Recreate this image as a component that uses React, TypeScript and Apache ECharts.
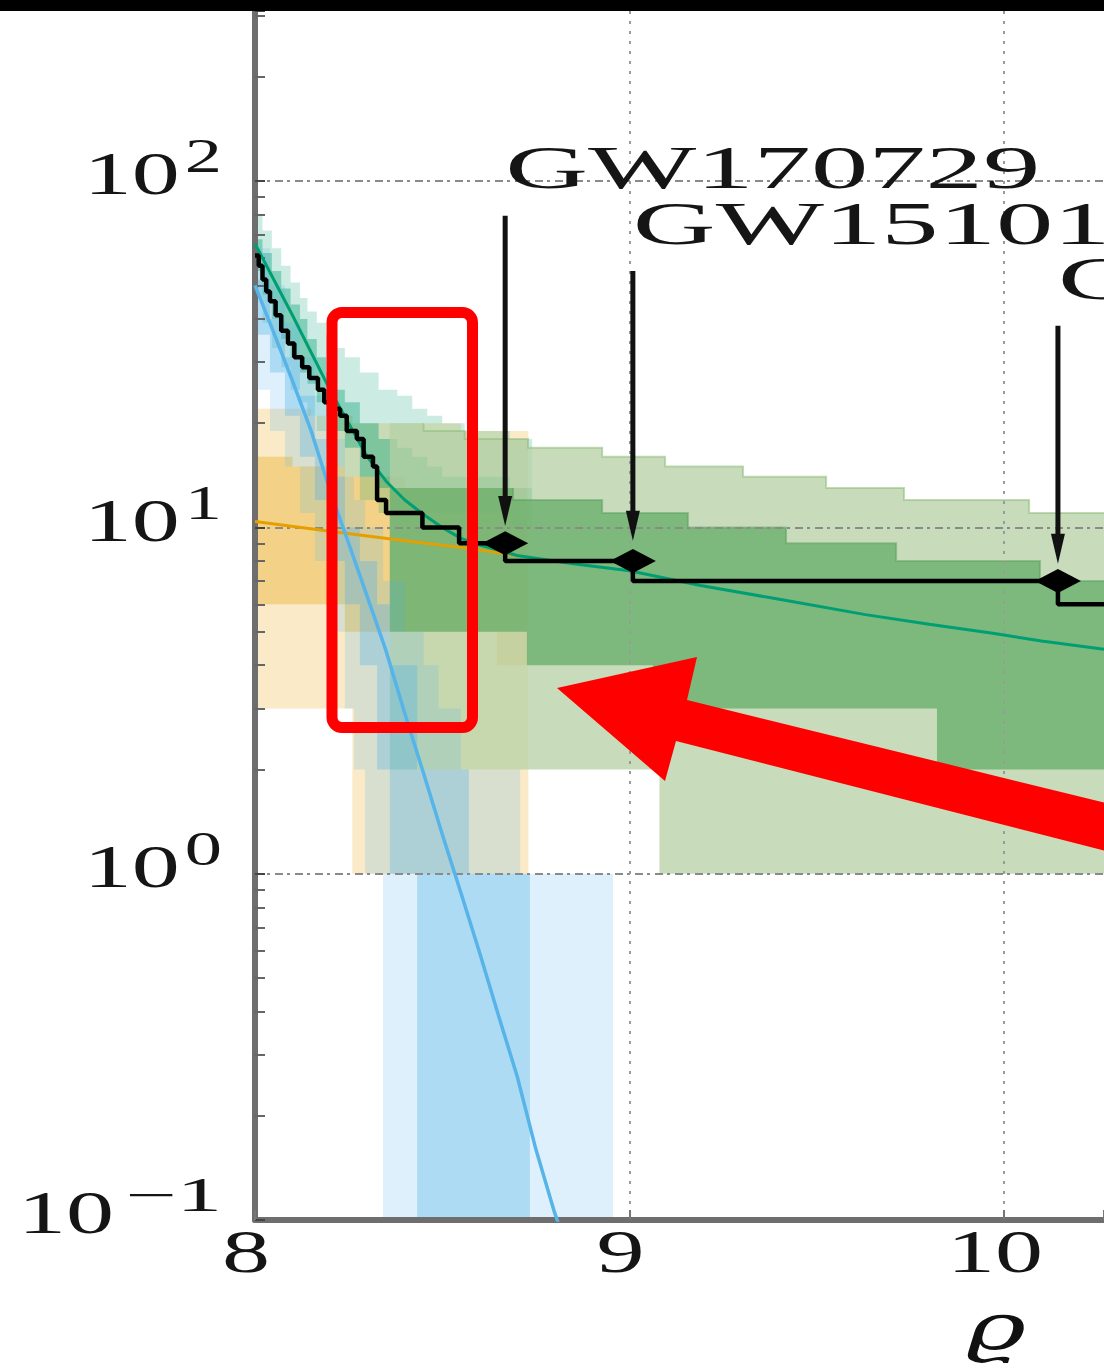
import React, { useEffect, useRef } from 'react';
import * as echarts from 'echarts';

const SERIF = '"Liberation Serif", "DejaVu Serif", serif';

// Axis extents
const X_MIN = 8;
const X_MAX = 10.267;
const Y_MIN = 0.1;
const Y_MAX = 310;

const xTickValues = [8, 9, 10];
const yTickExponents = [-1, 0, 1, 2];
const yMinorTickValues = [
  0.2, 0.3, 0.4, 0.5, 0.6, 0.7, 0.8, 0.9,
  2, 3, 4, 5, 6, 7, 8, 9,
  20, 30, 40, 50, 60, 70, 80, 90,
  200, 300,
];

// Observed cumulative count above threshold [ϱ, N]
const observedSteps = [
  [8.0, 61], [8.01, 57], [8.02, 52], [8.03, 48], [8.04, 45], [8.055, 41],
  [8.07, 37], [8.088, 34], [8.105, 31], [8.126, 29], [8.145, 27], [8.168, 25],
  [8.185, 23], [8.205, 22], [8.227, 21], [8.245, 19], [8.272, 18], [8.29, 16],
  [8.315, 15], [8.326, 12], [8.35, 11], [8.447, 10], [8.545, 9], [8.668, 8],
  [9.009, 7], [10.144, 6], [10.267, 6],
];

// Marked events
const eventNames = ['GW170729', 'GW151012', 'GW170823'];
const eventPoints = [[8.668, 9], [9.009, 8], [10.144, 7]];
const eventArrowTop = [79.5, 55, 38.2];
const eventArrowTip = [10.1, 9.15, 7.86];

// Model expectations
const blueModel = [
  [8.0, 50], [8.05, 36.5], [8.1, 26.5], [8.15, 19], [8.2, 12.8], [8.25, 9.0],
  [8.3, 6.3], [8.35, 4.4], [8.4, 2.9], [8.45, 1.95], [8.5, 1.3], [8.55, 0.88],
  [8.6, 0.59], [8.65, 0.39], [8.7, 0.26], [8.75, 0.16], [8.8, 0.105], [8.83, 0.085],
];
const orangeModel = [[8.0, 10.4], [8.2, 9.75], [8.4, 9.15], [8.57, 8.7], [8.7, 8.3]];
const tealModel = [
  [8.0, 66], [8.05, 52], [8.1, 41], [8.15, 32], [8.2, 25], [8.25, 20], [8.3, 16],
  [8.35, 13.6], [8.4, 12], [8.45, 10.9], [8.5, 10.0], [8.55, 9.3], [8.6, 8.9],
  [8.7, 8.3], [8.85, 7.85], [9.0, 7.5], [9.19, 6.8], [9.4, 6.2], [9.63, 5.6],
  [9.8, 5.25], [9.97, 4.95], [10.1, 4.7], [10.267, 4.45],
];

// Credible bands: bin edges with lower / upper counts per bin
const yellowEdges90 = [8.0, 8.15, 8.26, 8.35, 8.55, 8.73];
const yellowLo90 = [3, 3, 1, 1, 1];
const yellowHi90 = [22, 21, 20, 20, 19];
const yellowEdges50 = [8.0, 8.1, 8.24, 8.4, 8.646, 8.726];
const yellowLo50 = [6, 6, 5, 5, 4];
const yellowHi50 = [16, 15, 14, 13, 13];

const tealEdges = [8.0, 8.02, 8.045, 8.07, 8.095, 8.12, 8.14, 8.165, 8.19, 8.215, 8.24, 8.28, 8.33, 8.38, 8.42, 8.46, 8.5, 8.56, 8.62, 8.68, 8.74];
const tealHi90 = [80, 72, 64, 57, 51, 46, 42, 39, 36, 33, 31, 28, 25, 24, 22, 21, 20, 19, 19, 18];
const tealLo90 = [46, 39, 33, 29, 25, 23, 21, 19, 17, 15, 14, 12, 11, 11, 11, 11, 11, 11, 11, 10];
const tealHi50 = [68, 62, 55, 49, 44, 40, 35, 31, 28, 25, 23, 20, 18, 17, 16, 15, 14, 14, 14, 13];
const tealLo50 = [55, 47, 40, 35, 31, 28, 26, 23, 21, 19, 17, 14, 13, 13, 13, 13, 13, 13, 13, 12];

const greenEdges90 = [8.36, 8.45, 8.56, 8.729, 8.927, 9.08, 9.095, 9.303, 9.525, 9.733, 10.067, 10.3];
const greenHi90 = [20, 19, 18, 17, 16, 16, 15, 14, 13, 12, 11];
const greenLo90 = [2, 2, 2, 2, 2, 1, 1, 1, 1, 1, 1];
const greenEdges50 = [8.36, 8.689, 8.726, 8.927, 9.063, 9.156, 9.418, 9.712, 9.821, 10.096, 10.3];
const greenHi50 = [13, 12, 12, 11, 11, 10, 9, 8, 8, 7];
const greenLo50 = [5, 5, 4, 4, 3, 3, 3, 3, 2, 2];

const blueEdges90 = [8.0, 8.04, 8.08, 8.12, 8.16, 8.2, 8.24, 8.264, 8.294, 8.342, 8.4, 8.45, 8.49, 8.55, 8.708, 8.956];
const blueLo90 = [25, 19, 15, 11, 8, 5, 3, 2, 1, 0, 0, 0, 0, 0, 0];
const blueHi90 = [64, 50, 39, 31, 24, 18, 14, 12, 10, 7, 5, 4, 3, 2, 1];
const blueEdges50 = [8.0, 8.04, 8.08, 8.12, 8.16, 8.2, 8.24, 8.28, 8.326, 8.36, 8.433, 8.5, 8.571, 8.734];
const blueLo50 = [36, 28, 21, 16, 12, 8, 6, 4, 2, 1, 0, 0, 0];
const blueHi50 = [52, 40, 31, 24, 18, 14, 10, 8, 6, 4, 2, 2, 1];

const floorY = (v: number) => Math.max(v, Y_MIN);

let measureCtx: CanvasRenderingContext2D | null = null;
function textWidth(text: string, size: number): number {
  if (!measureCtx) measureCtx = document.createElement('canvas').getContext('2d');
  if (!measureCtx) return text.length * size * 0.5;
  measureCtx.font = `${size}px ${SERIF}`;
  return measureCtx.measureText(text).width;
}

function textEl(text: string, x: number, y: number, size: number, align: string, vAlign: string, scaleX: number, extra: any = {}) {
  return {
    type: 'text',
    x,
    y,
    scaleX,
    silent: true,
    style: {
      text,
      fontSize: size,
      fontFamily: SERIF,
      fill: '#151515',
      align,
      verticalAlign: vAlign,
      textAlign: align,
      textVerticalAlign: vAlign,
      ...extra,
    },
  };
}

// Step band drawn as one polygon: upper steps left→right, lower steps right→left.
// An optional outline is traced along the upper steps only.
function bandSeries(name: string, edges: number[], lo: number[], hi: number[], fill: string, edgeColor?: string) {
  return {
    name,
    type: 'custom',
    coordinateSystem: 'cartesian2d',
    z: 1,
    silent: true,
    data: [[edges[0], hi[0]]],
    renderItem: (_params: any, api: any) => {
      const upper: number[][] = [];
      for (let i = 0; i < hi.length; i++) {
        upper.push(api.coord([edges[i], floorY(hi[i])]));
        upper.push(api.coord([edges[i + 1], floorY(hi[i])]));
      }
      const lower: number[][] = [];
      for (let i = lo.length - 1; i >= 0; i--) {
        lower.push(api.coord([edges[i + 1], floorY(lo[i])]));
        lower.push(api.coord([edges[i], floorY(lo[i])]));
      }
      const children: any[] = [
        { type: 'polygon', shape: { points: upper.concat(lower) }, style: { fill, stroke: 'none' } },
      ];
      if (edgeColor) {
        children.push({
          type: 'polyline',
          shape: { points: upper.slice(1) },
          style: { stroke: edgeColor, lineWidth: 2, fill: 'none' },
        });
      }
      return { type: 'group', children };
    },
  };
}

function buildOption() {
  return {
    animation: false,
    backgroundColor: '#ffffff',
    grid: { left: 255, right: 0, top: 11, bottom: 148, containLabel: false },
    xAxis: {
      type: 'value',
      min: X_MIN,
      max: X_MAX,
      interval: 1,
      z: 3,
      axisLine: { show: true, lineStyle: { color: '#6e6e6e', width: 6 } },
      axisTick: { show: true, inside: true, length: 10, lineStyle: { color: '#777', width: 2 } },
      axisLabel: { show: false },
      splitLine: {
        show: true,
        showMinLine: false,
        showMaxLine: false,
        lineStyle: { color: '#9a9a9a', width: 2, type: [3, 7] },
      },
    },
    yAxis: [
      {
        type: 'log',
        logBase: 10,
        min: Y_MIN,
        max: Y_MAX,
        position: 'left',
        z: 3,
        axisLine: { show: true, lineStyle: { color: '#6e6e6e', width: 6 } },
        axisTick: { show: true, inside: true, length: 10, lineStyle: { color: '#444', width: 2 } },
        axisLabel: { show: false },
        splitLine: {
          show: true,
          showMinLine: false,
          showMaxLine: false,
          lineStyle: { color: '#8a8a8a', width: 2, type: [8, 4, 3, 5] },
        },
      },
      {
        type: 'log',
        logBase: 10,
        min: Y_MIN,
        max: Y_MAX,
        position: 'left',
        offset: 0,
        z: 3,
        axisLine: { show: false },
        axisTick: {
          show: true,
          inside: true,
          length: 10,
          customValues: yMinorTickValues,
          lineStyle: { color: '#666', width: 2 },
        },
        axisLabel: { show: false },
        splitLine: { show: false },
      },
    ],
    series: [
      bandSeries('yellow90', yellowEdges90, yellowLo90, yellowHi90, 'rgba(230,159,0,0.22)'),
      bandSeries('yellow50', yellowEdges50, yellowLo50, yellowHi50, 'rgba(230,159,0,0.32)'),
      bandSeries('teal90', tealEdges, tealLo90, tealHi90, 'rgba(0,158,115,0.2)'),
      bandSeries('teal50', tealEdges, tealLo50, tealHi50, 'rgba(0,158,115,0.37)'),
      bandSeries('green90', greenEdges90, greenLo90, greenHi90, 'rgba(182,208,166,0.75)', 'rgba(140,190,120,0.55)'),
      bandSeries('green50', greenEdges50, greenLo50, greenHi50, 'rgba(100,172,103,0.75)', 'rgba(90,160,90,0.5)'),
      bandSeries('blue90', blueEdges90, blueLo90, blueHi90, 'rgba(86,180,233,0.2)'),
      bandSeries('blue50', blueEdges50, blueLo50, blueHi50, 'rgba(86,180,233,0.34)'),
      {
        name: 'orange',
        type: 'line',
        data: orangeModel,
        showSymbol: false,
        silent: true,
        z: 4,
        lineStyle: { color: '#e69f00', width: 3 },
      },
      {
        name: 'blue',
        type: 'line',
        data: blueModel,
        showSymbol: false,
        silent: true,
        z: 4,
        lineStyle: { color: '#56b4e9', width: 3.5 },
      },
      {
        name: 'teal',
        type: 'line',
        data: tealModel,
        showSymbol: false,
        silent: true,
        z: 4,
        lineStyle: { color: '#009e73', width: 3 },
      },
      {
        name: 'observed',
        type: 'line',
        data: observedSteps,
        step: 'end',
        showSymbol: false,
        silent: true,
        z: 5,
        lineStyle: { color: '#000', width: 4.5 },
      },
      {
        name: 'events',
        type: 'scatter',
        data: eventPoints,
        symbol: 'diamond',
        symbolSize: [46, 24],
        silent: true,
        z: 6,
        itemStyle: { color: '#000', opacity: 1 },
      },
      {
        name: 'eventArrows',
        type: 'custom',
        coordinateSystem: 'cartesian2d',
        silent: true,
        z: 6,
        data: eventPoints.map((p, i) => [p[0], eventArrowTop[i], eventArrowTip[i]]),
        renderItem: (_params: any, api: any) => {
          const x = api.value(0);
          const top = api.coord([x, api.value(1)]);
          const tip = api.coord([x, api.value(2)]);
          const head = 30;
          const half = 7;
          return {
            type: 'group',
            children: [
              {
                type: 'line',
                shape: { x1: top[0], y1: top[1], x2: tip[0], y2: tip[1] - head + 2 },
                style: { stroke: '#111', lineWidth: 5 },
              },
              {
                type: 'polygon',
                shape: { points: [[tip[0] - half, tip[1] - head], [tip[0] + half, tip[1] - head], [tip[0], tip[1]]] },
                style: { fill: '#111' },
              },
            ],
          };
        },
      },
      {
        name: 'eventLabels',
        type: 'custom',
        coordinateSystem: 'cartesian2d',
        silent: true,
        z: 7,
        data: eventPoints.map((p, i) => [p[0], eventArrowTop[i]]),
        renderItem: (params: any, api: any) => {
          const p = api.coord([api.value(0), api.value(1)]);
          return textEl(eventNames[params.dataIndex], p[0], p[1] - 48, 62, 'left', 'middle', 1.85);
        },
      },
      {
        name: 'yTickLabels',
        type: 'custom',
        coordinateSystem: 'cartesian2d',
        silent: true,
        z: 7,
        data: yTickExponents.map((e) => [X_MIN, Math.pow(10, e)]),
        renderItem: (params: any, api: any) => {
          const e = yTickExponents[params.dataIndex];
          const p = api.coord([api.value(0), api.value(1)]);
          const sup = e < 0 ? '\u2212' + Math.abs(e) : String(e);
          const supScale = e < 0 ? 1.9 : 1.55;
          const supRight = p[0] - 33;
          const supW = textWidth(sup, 48) * supScale;
          const gap = e < 0 ? 11 : 5;
          return {
            type: 'group',
            children: [
              textEl('10', supRight - supW - gap, p[1] - 8, 62, 'right', 'middle', 1.55),
              textEl(sup, supRight, p[1] - 25, 48, 'right', 'middle', supScale),
            ],
          };
        },
      },
      {
        name: 'xTickLabels',
        type: 'custom',
        coordinateSystem: 'cartesian2d',
        silent: true,
        z: 7,
        data: xTickValues.map((v) => [v, Y_MIN]),
        renderItem: (params: any, api: any) => {
          const p = api.coord([api.value(0), api.value(1)]);
          return textEl(String(xTickValues[params.dataIndex]), p[0] - 9, p[1] + 31, 62, 'center', 'middle', 1.55);
        },
      },
    ],
    graphic: [
      {
        type: 'rect',
        z: 100,
        silent: true,
        shape: { x: 0, y: 0, width: 1104, height: 11 },
        style: { fill: '#000' },
      },
      {
        type: 'text',
        z: 100,
        silent: true,
        x: 996,
        y: 1326,
        scaleX: 1.55,
        style: {
          text: '\u03f1',
          fontSize: 66,
          fontStyle: 'italic',
          fontFamily: '"DejaVu Serif", serif',
          fill: '#111',
          align: 'center',
          verticalAlign: 'middle',
          textAlign: 'center',
          textVerticalAlign: 'middle',
        },
      },
      {
        type: 'rect',
        z: 100,
        silent: true,
        shape: { x: 332, y: 312.5, width: 140.5, height: 415, r: 10 },
        style: { fill: 'none', stroke: '#ff0000', lineWidth: 11 },
      },
      {
        type: 'polygon',
        z: 100,
        silent: true,
        shape: {
          points: [
            [557, 688], [697, 657], [687, 700], [1110, 804],
            [1110, 852], [676, 741], [665, 781],
          ],
        },
        style: { fill: '#ff0000' },
      },
    ],
  };
}

export default function App() {
  const ref = useRef<HTMLDivElement>(null);
  useEffect(() => {
    if (!ref.current) return;
    const chart = echarts.init(ref.current, null, { renderer: 'svg' });
    chart.setOption(buildOption() as any);
    return () => chart.dispose();
  }, []);
  return (
    <div
      ref={ref}
      style={{ position: 'absolute', left: 0, top: 0, width: 1104, height: 1368, background: '#fff' }}
    />
  );
}
